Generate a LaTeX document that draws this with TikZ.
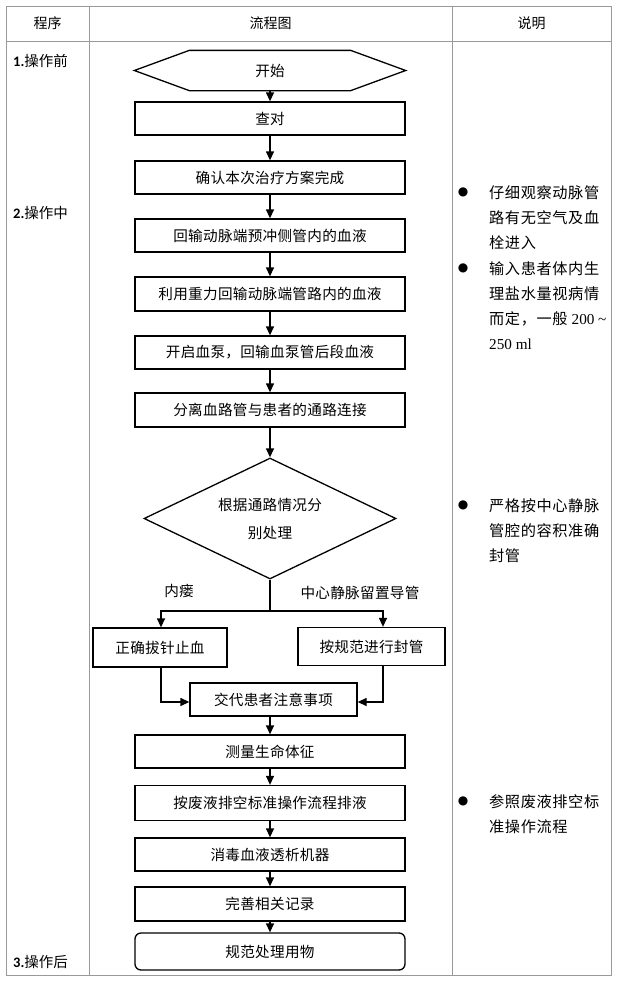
\documentclass[tikz,border=0pt]{standalone}
\usepackage{fontspec}
\setmainfont{Noto Sans CJK SC}
\newfontfamily\carlito{Carlito}
\newfontfamily\lserif{Liberation Serif}
\newfontfamily\dejavu{DejaVu Sans}
\newfontfamily\boxfont[LetterSpace=2]{Noto Sans CJK SC}
\newfontfamily\notefont[LetterSpace=4]{Noto Sans CJK SC}
\usetikzlibrary{shapes.geometric,arrows.meta,calc}
\begin{document}
\begin{tikzpicture}[x=1pt,y=-1pt,
  grid/.style={draw=black!40, line width=0.9pt},
  box/.style={draw, line width=1.3pt, minimum width=270pt, minimum height=33pt, inner sep=0pt, font=\boxfont\fontsize{14.6}{16}\selectfont},
  arr/.style={line width=1.3pt, -{Triangle[length=9pt,width=8pt]}},
  ln/.style={line width=1.3pt},
  hdr/.style={font=\fontsize{14}{16}\selectfont, inner sep=0pt},
  stage/.style={anchor=west, inner sep=0pt, font=\fontsize{14.5}{16}\selectfont},
  note/.style={anchor=north west, inner sep=0pt, align=left, font=\notefont\fontsize{15.2}{25}\selectfont},
  bul/.style={font=\dejavu\fontsize{12}{12}\selectfont, inner sep=0pt}]

\useasboundingbox (0,0) rectangle (621,983);
\fill[white] (0,0) rectangle (621,983);

% table
\draw[grid] (6,6) rectangle (611,975);
\draw[grid] (6,41) -- (611,41);
\draw[grid] (89,6) -- (89,975);
\draw[grid] (452,6) -- (452,975);

\node[hdr] (h1) at (47.5,23.5) {程序};
\node[hdr] (h2) at (270.5,23.5) {流程图};
\node[hdr] (h3) at (531.5,23.5) {说明};

\node[stage] (s1) at (13,61) {{\carlito\bfseries 1.}操作前};
\node[stage] (s2) at (13,213) {{\carlito\bfseries 2.}操作中};
\node[stage] (s3) at (13,962) {{\carlito\bfseries 3.}操作后};

% flowchart
\node[box, draw=none, minimum height=39pt] (start) at (270,70.5) {开始};
\draw[ln] (start.west) -- ([xshift=55pt]start.north west) -- ([xshift=-55pt]start.north east) -- (start.east) -- ([xshift=-55pt]start.south east) -- ([xshift=55pt]start.south west) -- cycle;

\node[box] (b1) at (270,118.5) {查对};
\node[box] (b2) at (270,177.5) {确认本次治疗方案完成};
\node[box] (b3) at (270,235.5) {回输动脉端预冲侧管内的血液};
\node[box, minimum height=34pt] (b4) at (270,294) {利用重力回输动脉端管路内的血液};
\node[box] (b5) at (270,352.5) {开启血泵，回输血泵管后段血液};
\node[box, minimum height=34pt] (b6) at (270,410) {分离血路管与患者的通路连接};

\node[draw, diamond, ln, aspect=2, minimum width=252pt, minimum height=121pt, inner sep=0pt, align=center, font=\boxfont\fontsize{14.6}{28}\selectfont] (dia) at (270,518.5) {根据通路情况分\\别处理};

\coordinate (sp) at (270,611);
\node[box, minimum width=134pt, minimum height=39pt] (lb) at (160,647.5) {正确拔针止血};
\node[box, minimum width=147pt, minimum height=38pt] (rb) at (371.5,646.5) {按规范进行封管};
\node[box, minimum width=167pt] (jd) at (273.5,699.5) {交代患者注意事项};

\node[inner sep=0pt, font=\boxfont\fontsize{14.6}{16}\selectfont] (lab1) at (179,591) {内瘘};
\node[inner sep=0pt, font=\boxfont\fontsize{14.6}{16}\selectfont] (lab2) at (360,593) {中心静脉留置导管};

\node[box] (b7) at (270,751.5) {测量生命体征};
\node[box, minimum height=35pt] (b8) at (270,803) {按废液排空标准操作流程排液};
\node[box] (b9) at (270,854.5) {消毒血液透析机器};
\node[box, minimum height=34pt] (b10) at (270,904) {完善相关记录};
\node[box, minimum height=37pt, rounded corners=6pt] (b11) at (270,951.5) {规范处理用物};

% connectors
\draw[arr] (start) -- (b1);
\draw[arr] (b1) -- (b2);
\draw[arr] (b2) -- (b3);
\draw[arr] (b3) -- (b4);
\draw[arr] (b4) -- (b5);
\draw[arr] (b5) -- (b6);
\draw[arr] (b6) -- (dia);
\draw[ln] (dia.south) -- (sp);
\draw[arr] (sp) -| ([xshift=1pt]lb.north);
\draw[arr] (sp) -| ([xshift=11.5pt]rb.north);
\draw[arr] ([xshift=1pt]lb.south) |- ([yshift=-2.5pt]jd.west);
\draw[arr] ([xshift=11.5pt]rb.south) |- ([yshift=-2.5pt]jd.east);
\draw[arr] (jd.south -| b7.north) -- (b7.north);
\draw[arr] (b7) -- (b8);
\draw[arr] (b8) -- (b9);
\draw[arr] (b9) -- (b10);
\draw[arr] (b10) -- (b11);

% notes
\node[bul] (d1) at (463,192) {●};
\node[note] (n1) at (489,185) {仔细观察动脉管\\路有无空气及血\\栓进入};
\node[bul] (d2) at (463,268) {●};
\node[note] (n2) at (489,261) {输入患者体内生\\理盐水量视病情\\而定，一般 {\lserif 200 \textasciitilde}\\{\lserif 250 ml}};
\node[bul] (d3) at (463,505) {●};
\node[note] (n3) at (489,498) {严格按中心静脉\\管腔的容积准确\\封管};
\node[bul] (d4) at (463,801) {●};
\node[note] (n4) at (489,794) {参照废液排空标\\准操作流程};
\end{tikzpicture}
\end{document}
